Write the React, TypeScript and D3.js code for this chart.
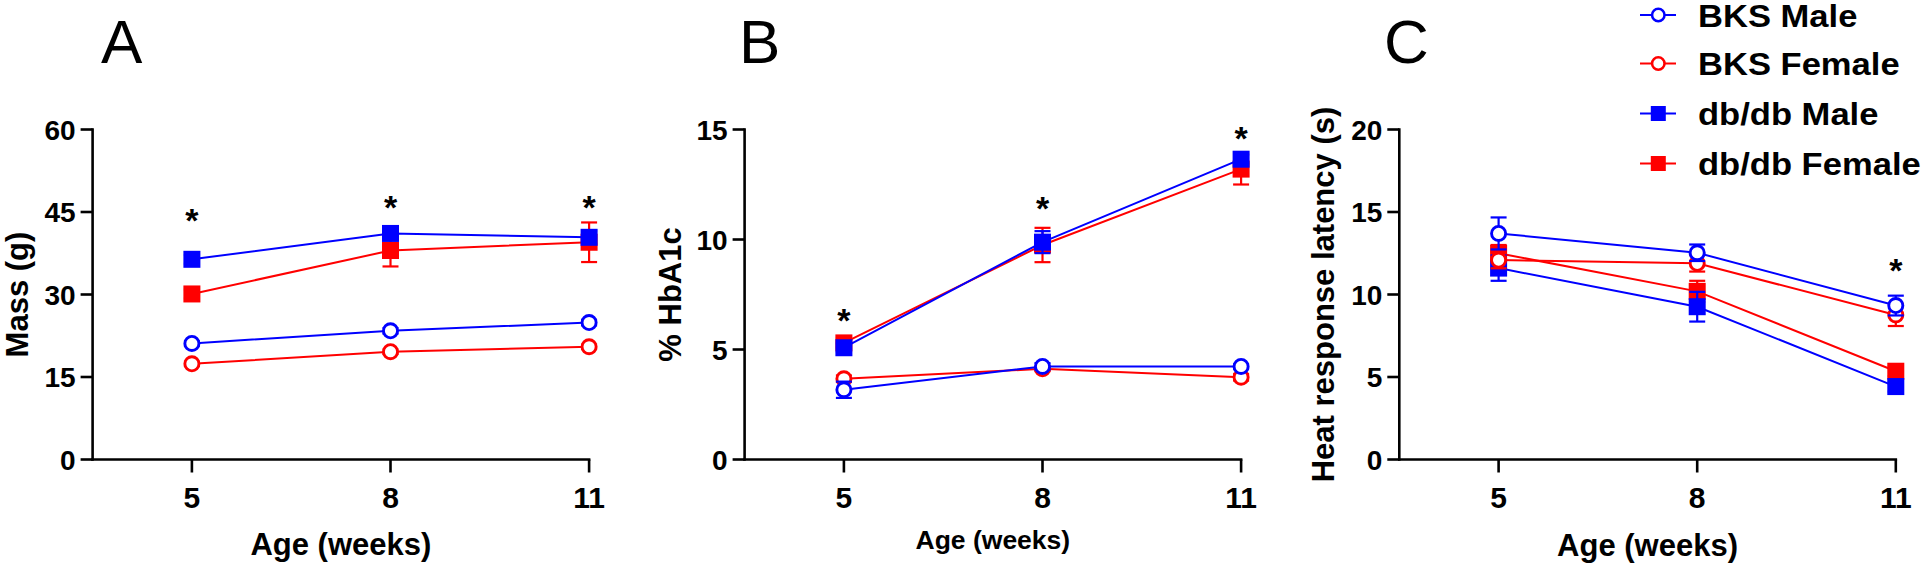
import React from "react";
import * as d3 from "d3";

// ---------- Data ----------
const weeks = [5, 8, 11];
const seriesNames = ["BKS Male", "BKS Female", "db/db Male", "db/db Female"];
const seriesColors = ["#0000ff", "#ff0000", "#0000ff", "#ff0000"];
const seriesShapes = ["circle", "circle", "square", "square"];

// Panel A: Mass (g)
const massBKSMale = [21.1, 23.4, 24.9];
const massBKSFemale = [17.4, 19.6, 20.5];
const massDbMale = [36.4, 41.1, 40.4];
const massDbFemale = [30.1, 38.0, 39.5];
const massBKSMaleSE = [0.4, 0.5, 0.5];
const massBKSFemaleSE = [0.4, 0.4, 0.4];
const massDbMaleSE = [0.8, 0.9, 1.2];
const massDbFemaleSE = [0.8, 2.9, 3.6];
const massStars = [44.8, 47.2, 47.2];
const massTicks = [0, 15, 30, 45, 60];

// Panel B: % HbA1c
const hbBKSMale = [3.17, 4.23, 4.23];
const hbBKSFemale = [3.67, 4.12, 3.74];
const hbDbMale = [5.08, 9.88, 13.65];
const hbDbFemale = [5.3, 9.75, 13.2];
const hbBKSMaleSE = [0.37, 0.15, 0.1];
const hbBKSFemaleSE = [0.15, 0.1, 0.15];
const hbDbMaleSE = [0.2, 0.5, 0.2];
const hbDbFemaleSE = [0.2, 0.78, 0.7];
const hbStars = [6.65, 11.74, 14.95];
const hbTicks = [0, 5, 10, 15];

// Panel C: Heat response latency (s)
const latBKSMale = [13.7, 12.53, 9.33];
const latBKSFemale = [12.09, 11.89, 8.76];
const latDbMale = [11.6, 9.26, 4.42];
const latDbFemale = [12.5, 10.19, 5.35];
const latBKSMaleSE = [0.97, 0.5, 0.6];
const latBKSFemaleSE = [0.5, 0.5, 0.67];
const latDbMaleSE = [0.77, 0.9, 0.3];
const latDbFemaleSE = [0.5, 0.64, 0.3];
const latStars = [null, null, 11.89];
const latTicks = [0, 5, 10, 15, 20];

const xTicks = [5, 8, 11];

const FONT = "'Liberation Sans', Arial, Helvetica, sans-serif";

type PanelDef = {
  letter: string;
  letterX: number;
  axisX: number;
  yMax: number;
  yTicks: number[];
  yTitle: string;
  yTitleX: number;
  xTitleSize: number;
  xTitleY: number;
  values: number[][];
  errors: number[][];
  stars: (number | null)[];
};

const panels: PanelDef[] = [
  {
    letter: "A", letterX: 101, axisX: 92.6, yMax: 60, yTicks: massTicks,
    yTitle: "Mass (g)", yTitleX: 28, xTitleSize: 31, xTitleY: 555,
    values: [massBKSMale, massBKSFemale, massDbMale, massDbFemale],
    errors: [massBKSMaleSE, massBKSFemaleSE, massDbMaleSE, massDbFemaleSE],
    stars: massStars,
  },
  {
    letter: "B", letterX: 739, axisX: 744.6, yMax: 15, yTicks: hbTicks,
    yTitle: "% HbA1c", yTitleX: 681, xTitleSize: 26.5, xTitleY: 549,
    values: [hbBKSMale, hbBKSFemale, hbDbMale, hbDbFemale],
    errors: [hbBKSMaleSE, hbBKSFemaleSE, hbDbMaleSE, hbDbFemaleSE],
    stars: hbStars,
  },
  {
    letter: "C", letterX: 1384, axisX: 1399.3, yMax: 20, yTicks: latTicks,
    yTitle: "Heat response latency (s)", yTitleX: 1334, xTitleSize: 31, xTitleY: 556,
    values: [latBKSMale, latBKSFemale, latDbMale, latDbFemale],
    errors: [latBKSMaleSE, latBKSFemaleSE, latDbMaleSE, latDbFemaleSE],
    stars: latStars,
  },
];

const TOP = 129.5;
const BOTTOM = 459.5;
const WEEK_PX = 66.2;

function Marker({ shape, x, y, color, size }: { shape: string; x: number; y: number; color: string; size: number }) {
  if (shape === "circle") {
    const sw = size * 0.17;
    return <circle cx={x} cy={y} r={size / 2 - sw / 2} fill="#fff" stroke={color} strokeWidth={sw} />;
  }
  return <rect x={x - size / 2} y={y - size / 2} width={size} height={size} fill={color} />;
}

function Panel({ p }: { p: PanelDef }) {
  const x = d3.scaleLinear().domain([3.5, 11]).range([p.axisX, p.axisX + 7.5 * WEEK_PX]);
  const y = d3.scaleLinear().domain([0, p.yMax]).range([BOTTOM, TOP]);
  const line = d3.line<number>().x((_, i) => x(weeks[i])).y((v) => y(v));
  const order = [3, 2, 1, 0];
  const cx = (x(3.5) + x(11)) / 2;
  const cy = (TOP + BOTTOM) / 2;
  return (
    <g>
      <text x={p.letterX} y={63} fontSize={62} fontFamily={FONT} fill="#000">{p.letter}</text>
      {/* axes */}
      <line x1={x(3.5)} x2={x(3.5)} y1={y(p.yMax)} y2={y(0)} stroke="#000" strokeWidth={2.6} strokeLinecap="square" />
      <line x1={x(3.5)} x2={x(11)} y1={y(0)} y2={y(0)} stroke="#000" strokeWidth={2.6} strokeLinecap="square" />
      {p.yTicks.map((t) => (
        <g key={"yt" + t}>
          <line x1={x(3.5) - 12} x2={x(3.5)} y1={y(t)} y2={y(t)} stroke="#000" strokeWidth={2.6} />
          <text x={x(3.5) - 17} y={y(t)} dy="0.36em" textAnchor="end" fontSize={28} fontWeight="bold" fontFamily={FONT}>{t}</text>
        </g>
      ))}
      {xTicks.map((t) => (
        <g key={"xt" + t}>
          <line x1={x(t)} x2={x(t)} y1={y(0)} y2={y(0) + 13} stroke="#000" strokeWidth={2.6} />
          <text x={x(t)} y={508} textAnchor="middle" fontSize={30} fontWeight="bold" fontFamily={FONT}>{t}</text>
        </g>
      ))}
      <text x={cx} y={p.xTitleY} textAnchor="middle" fontSize={p.xTitleSize} fontWeight="bold" fontFamily={FONT}>Age (weeks)</text>
      <text transform={`translate(${p.yTitleX},${cy}) rotate(-90)`} textAnchor="middle" fontSize={31} fontWeight="bold" fontFamily={FONT}>{p.yTitle}</text>
      {/* series */}
      {order.map((si) => {
        const vals = p.values[si];
        const errs = p.errors[si];
        const col = seriesColors[si];
        return (
          <g key={"s" + si}>
            {vals.map((v, i) => {
              const xx = x(weeks[i]);
              const yt = y(v + errs[i]);
              const yb = y(v - errs[i]);
              return (
                <g key={"e" + i} stroke={col} strokeWidth={2.2}>
                  <line x1={xx} x2={xx} y1={yt} y2={yb} />
                  <line x1={xx - 8} x2={xx + 8} y1={yt} y2={yt} />
                  <line x1={xx - 8} x2={xx + 8} y1={yb} y2={yb} />
                </g>
              );
            })}
            <path d={line(vals) || ""} fill="none" stroke={col} strokeWidth={2} />
            {vals.map((v, i) => (
              <Marker key={"m" + i} shape={seriesShapes[si]} x={x(weeks[i])} y={y(v)} color={col} size={17} />
            ))}
          </g>
        );
      })}
      {p.stars.map((s, i) =>
        s == null ? null : (
          <text key={"st" + i} x={x(weeks[i])} y={y(s) + 19} textAnchor="middle" fontSize={34} fontWeight="bold" fontFamily={FONT}>*</text>
        )
      )}
    </g>
  );
}

function Legend() {
  const rows = [15, 63.5, 113.5, 163.5];
  return (
    <g>
      {seriesNames.map((n, i) => (
        <g key={n}>
          <line x1={1640} x2={1676} y1={rows[i]} y2={rows[i]} stroke={seriesColors[i]} strokeWidth={2} />
          <Marker shape={seriesShapes[i]} x={1658.3} y={rows[i]} color={seriesColors[i]} size={15} />
          <text transform={`translate(1698,${rows[i] + 11.5}) scale(1.08,1)`} fontSize={32} fontWeight="bold" fontFamily={FONT}>{n}</text>
        </g>
      ))}
    </g>
  );
}

export default function App() {
  return (
    <svg width={1923} height={563} viewBox="0 0 1923 563" style={{ position: "absolute", left: 0, top: 0, background: "#fff" }}>
      <rect width={1923} height={563} fill="#fff" />
      {panels.map((p) => (
        <Panel key={p.letter} p={p} />
      ))}
      <Legend />
    </svg>
  );
}
